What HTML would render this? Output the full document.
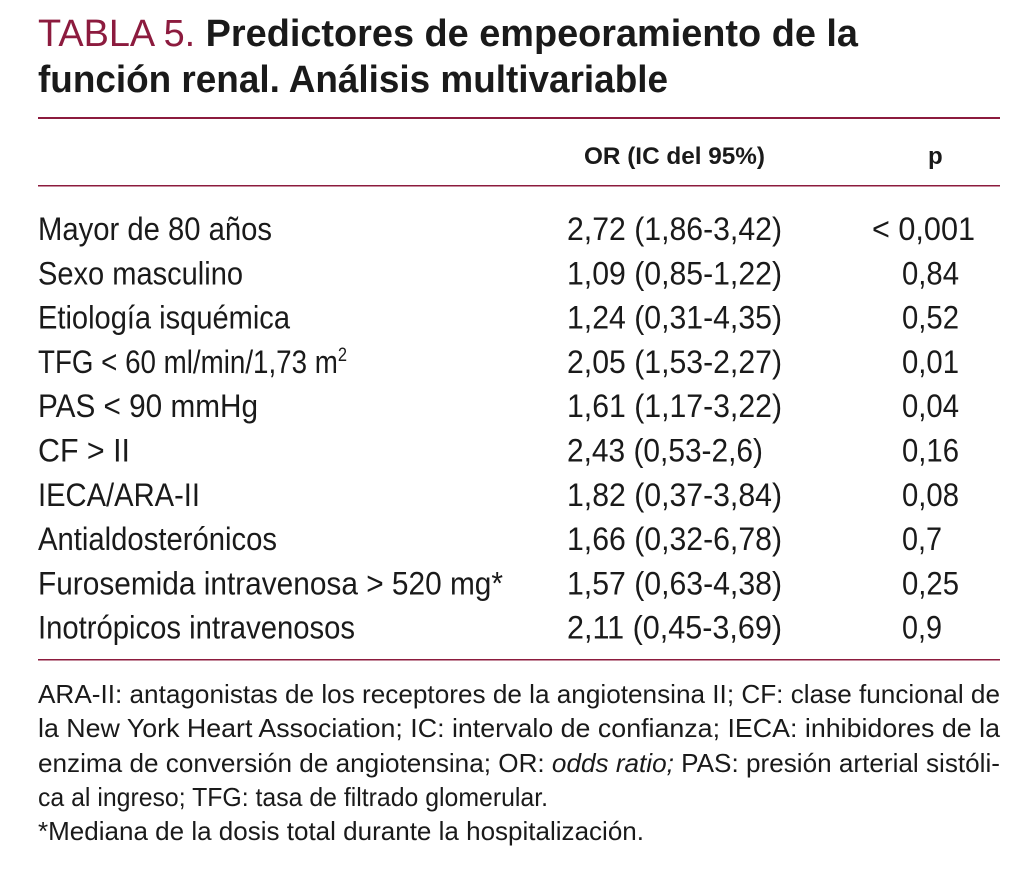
<!DOCTYPE html>
<html><head><meta charset="utf-8"><style>
html,body{margin:0;padding:0;background:#fff;}
svg{display:block;}
text{font-family:"Liberation Sans",sans-serif;fill:#1a1a1a;}
.t{font-size:38px;font-weight:bold;}
.h{font-size:24px;font-weight:bold;}
.r{font-size:32px;}
.f{font-size:26px;}
</style></head><body>
<svg width="1033" height="879" viewBox="0 0 1033 879">
<text class="t" x="38" y="46" textLength="820" lengthAdjust="spacingAndGlyphs"><tspan style="font-weight:normal;fill:#8c1b3e">TABLA 5.</tspan> Predictores de empeoramiento de la</text>
<text class="t" x="38" y="92" textLength="630" lengthAdjust="spacingAndGlyphs">función renal. Análisis multivariable</text>
<rect x="38" y="117" width="962" height="2" fill="#8c1b3e"/>
<text class="h" x="584" y="164" textLength="181" lengthAdjust="spacingAndGlyphs">OR (IC del 95%)</text>
<text class="h" x="928" y="164">p</text>
<rect x="38" y="185" width="962" height="1.5" fill="#8c1b3e"/>
<g id="rows"></g>
<rect x="38" y="659" width="962" height="1.5" fill="#8c1b3e"/>
<text class="f" x="38" y="703" textLength="962" lengthAdjust="spacingAndGlyphs">ARA-II: antagonistas de los receptores de la angiotensina II; CF: clase funcional de</text>
<text class="f" x="38" y="737" textLength="962" lengthAdjust="spacingAndGlyphs">la New York Heart Association; IC: intervalo de confianza; IECA: inhibidores de la</text>
<text class="f" x="38" y="772" textLength="962" lengthAdjust="spacingAndGlyphs">enzima de conversión de angiotensina; OR: <tspan font-style="italic">odds ratio;</tspan> PAS: presión arterial sistóli-</text>
<text class="f" x="38" y="806" textLength="510" lengthAdjust="spacingAndGlyphs">ca al ingreso; TFG: tasa de filtrado glomerular.</text>
<text class="f" x="38" y="840" textLength="606" lengthAdjust="spacingAndGlyphs">*Mediana de la dosis total durante la hospitalización.</text>
</svg>
<script>
const labels=["Mayor de 80 años","Sexo masculino","Etiología isquémica","TFG < 60 ml/min/1,73 m","PAS < 90 mmHg","CF > II","IECA/ARA-II","Antialdosterónicos","Furosemida intravenosa > 520 mg*","Inotrópicos intravenosos"];
const ors=["2,72 (1,86-3,42)","1,09 (0,85-1,22)","1,24 (0,31-4,35)","2,05 (1,53-2,27)","1,61 (1,17-3,22)","2,43 (0,53-2,6)","1,82 (0,37-3,84)","1,66 (0,32-6,78)","1,57 (0,63-4,38)","2,11 (0,45-3,69)"];
const pvals=["< 0,001","0,84","0,52","0,01","0,04","0,16","0,08","0,7","0,25","0,9"];
const labelW=[234,205,252,309,220,92,162,239,465,317];
const NS="http://www.w3.org/2000/svg";
const g=document.getElementById('rows');
function mk(txt,x,y,w){const t=document.createElementNS(NS,'text');t.setAttribute('class','r');t.setAttribute('x',x);t.setAttribute('y',y);t.textContent=txt;if(w){t.setAttribute('textLength',w);t.setAttribute('lengthAdjust','spacingAndGlyphs');}g.appendChild(t);return t;}
labels.forEach((l,i)=>{
  const y=240+i*44.3;
  const a=mk(l,38,y,labelW[i]);
  
  
  if(i===3){const s=document.createElementNS(NS,'tspan');s.setAttribute('dy','-12');s.setAttribute('font-size','19');s.textContent='2';a.appendChild(s);}
  const o=mk(ors[i],567,y,ors[i].length===15?196:215);
  
  
  const p=pvals[i];
  const pw=p.startsWith('<')?103:(p.length===3?40:57);
  const q=mk(p,p.startsWith('<')?872:902,y,pw);
  
  
});
</script>
</body></html>
